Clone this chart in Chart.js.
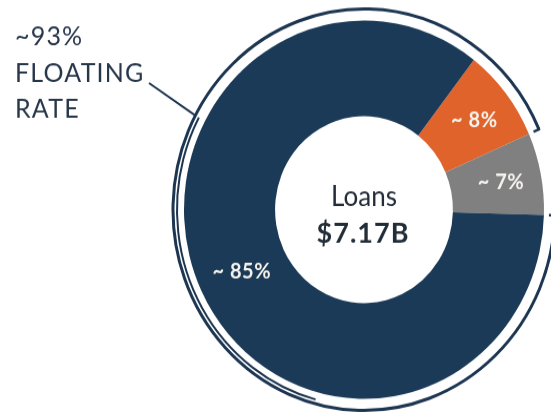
<!DOCTYPE html>
<html>
<head>
<meta charset="utf-8">
<script src="https://cdn.jsdelivr.net/npm/chart.js@4"></script>
<style>
  html, body { margin: 0; padding: 0; background: #ffffff; overflow: hidden; }
  #wrap {
    position: absolute; left: 0; top: 0;
    width: 551px; height: 393px;
    transform: scaleY(1.0509); transform-origin: 0 0;
  }
</style>
</head>
<body>
<div id="wrap"><canvas id="loanMix"></canvas></div>
<script>
// Loan book split, in percent of total loans
const categories = ['Floating (other)', 'Fixed', 'Floating (core)'];
const shares = [8, 7, 85];
const sliceColors = ['#e0632b', '#808081', '#1b3a57'];

// Texts
const sliceLabels = shares.map(v => '~ ' + v + '%');
const floatingShare = shares[0] + shares[2];
const calloutLines = ['~' + floatingShare + '%', 'FLOATING', 'RATE'];
const centerTitle = 'Loans';
const centerValue = '$7.17B';

const INK = '#27374a';
const LINE = '#1c3550';

const overlay = {
  id: 'overlay',
  afterDatasetsDraw(chart) {
    const ctx = chart.ctx;
    const arcs = chart.getDatasetMeta(0).data;
    const first = arcs[0].getProps(['x', 'y', 'outerRadius', 'innerRadius'], true);
    const cx = first.x, cy = first.y, R = first.outerRadius;

    ctx.save();

    // value labels inside each slice
    ctx.fillStyle = '#f5f3ed';
    ctx.font = 'bold 20px Lato';
    ctx.letterSpacing = '0.5px';
    ctx.textAlign = 'center';
    ctx.textBaseline = 'middle';
    arcs.forEach((arc, i) => {
      const p = arc.getProps(['startAngle', 'endAngle', 'innerRadius', 'outerRadius'], true);
      const mid = (p.startAngle + p.endAngle) / 2;
      const r = (p.innerRadius + p.outerRadius) / 2 + 3;
      ctx.fillText(sliceLabels[i], cx + Math.cos(mid) * r + 2, cy + Math.sin(mid) * r);
    });

    // centre title
    ctx.fillStyle = '#222d38';
    ctx.textBaseline = 'alphabetic';
    ctx.letterSpacing = '0px';
    ctx.font = '26px Lato';
    ctx.fillText(centerTitle, cx, 196);
    ctx.letterSpacing = '1px';
    ctx.font = 'bold 27px Lato';
    ctx.fillText(centerValue, cx - 1, 230.5);

    // bracket around the floating-rate slices
    const start = arcs[2].getProps(['startAngle'], true).startAngle;
    const end = arcs[0].getProps(['endAngle'], true).endAngle + Math.PI * 2;
    const rb = R + 11;
    ctx.strokeStyle = LINE;
    ctx.lineWidth = 3;
    ctx.lineCap = 'butt';
    ctx.beginPath();
    ctx.arc(cx, cy, rb, start, end);
    ctx.stroke();
    // inner trace of the bracket on the lower left
    ctx.lineWidth = 2;
    ctx.beginPath();
    ctx.arc(cx, cy, R + 7, Math.PI * 105 / 180, Math.PI * 208 / 180);
    ctx.stroke();
    // end ticks
    ctx.lineWidth = 2.5;
    [start, end].forEach(a => {
      ctx.beginPath();
      ctx.moveTo(cx + Math.cos(a) * (rb + 1), cy + Math.sin(a) * (rb + 1));
      ctx.lineTo(cx + Math.cos(a) * (rb - 6), cy + Math.sin(a) * (rb - 6));
      ctx.stroke();
    });

    // callout text and leader
    ctx.fillStyle = INK;
    ctx.font = '25px Lato';
    ctx.textAlign = 'left';
    ctx.letterSpacing = '1.2px';
    const baselines = [43, 78, 111.5];
    calloutLines.forEach((t, i) => ctx.fillText(t, 15, baselines[i]));
    ctx.letterSpacing = '0px';
    const la = Math.PI * 208 / 180;
    ctx.strokeStyle = LINE;
    ctx.lineWidth = 2;
    ctx.beginPath();
    ctx.moveTo(149, 79);
    ctx.lineTo(cx + Math.cos(la) * rb, cy + Math.sin(la) * rb);
    ctx.stroke();

    ctx.restore();
  }
};

new Chart(document.getElementById('loanMix'), {
  type: 'doughnut',
  data: {
    labels: categories,
    datasets: [{
      data: shares,
      backgroundColor: sliceColors,
      borderWidth: 0,
      offset: 0,
      hoverOffset: 0
    }]
  },
  options: {
    responsive: true,
    maintainAspectRatio: false,
    animation: false,
    events: [],
    rotation: 37.6,
    cutout: '49.4%',
    layout: { padding: { left: 184, right: 7, top: 19.5, bottom: 13.5 } },
    plugins: {
      legend: { display: false },
      tooltip: { enabled: false }
    }
  },
  plugins: [overlay]
});
</script>
</body>
</html>
